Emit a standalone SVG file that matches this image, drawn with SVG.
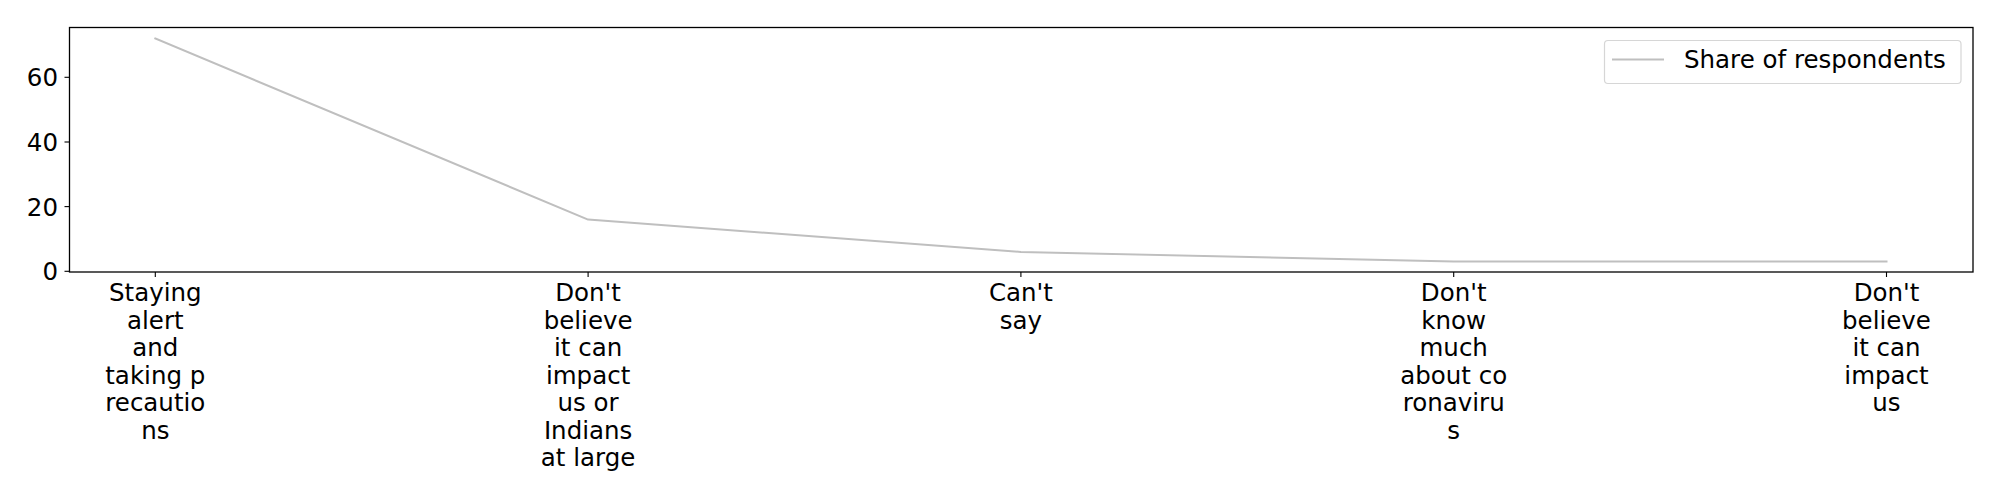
<svg xmlns="http://www.w3.org/2000/svg" width="2000" height="500" viewBox="0 0 2000 500">
<style>
text { font-family: "DejaVu Sans", "Liberation Sans", sans-serif; font-size: 24.5px; fill: #000; }
.xl { text-anchor: middle; }
.yl { text-anchor: end; }
.tick { stroke: #000; stroke-width: 1.1; }
.spine { fill: none; stroke: #000; stroke-width: 1.3; }
.series { fill: none; stroke: #bfbfbf; stroke-width: 2; stroke-linejoin: round; stroke-linecap: square; }
</style>
<rect x="0" y="0" width="2000" height="500" fill="#fff"/>
<g id="axes">
  <rect class="spine" x="69.5" y="27.5" width="1903.5" height="244.5"/>
  <g id="yticks">
    <line class="tick" x1="64.5" y1="271.3" x2="69.5" y2="271.3"/>
    <line class="tick" x1="64.5" y1="206.6" x2="69.5" y2="206.6"/>
    <line class="tick" x1="64.5" y1="142" x2="69.5" y2="142"/>
    <line class="tick" x1="64.5" y1="77.3" x2="69.5" y2="77.3"/>
    <text class="yl" x="58" y="280.2">0</text>
    <text class="yl" x="58" y="215.5">20</text>
    <text class="yl" x="58" y="150.9">40</text>
    <text class="yl" x="58" y="86.2">60</text>
  </g>
  <g id="xticks">
    <line class="tick" x1="155.3" y1="272" x2="155.3" y2="277"/>
    <line class="tick" x1="588.1" y1="272" x2="588.1" y2="277"/>
    <line class="tick" x1="1020.9" y1="272" x2="1020.9" y2="277"/>
    <line class="tick" x1="1453.7" y1="272" x2="1453.7" y2="277"/>
    <line class="tick" x1="1886.5" y1="272" x2="1886.5" y2="277"/>
  </g>
</g>
<g id="connectors">
  <polyline id="series-line" class="series" points="155.3,38.5 588.1,219.6 1020.9,251.9 1453.7,261.6 1886.5,261.6"/>
</g>
<g id="label-1">
  <text class="xl" x="155.3" y="301"><tspan x="155.3">Staying</tspan><tspan x="155.3" dy="27.5">alert</tspan><tspan x="155.3" dy="27.5">and</tspan><tspan x="155.3" dy="27.5">taking p</tspan><tspan x="155.3" dy="27.5">recautio</tspan><tspan x="155.3" dy="27.5">ns</tspan></text>
</g>
<g id="label-2">
  <text class="xl" x="588.1" y="301"><tspan x="588.1">Don't</tspan><tspan x="588.1" dy="27.5">believe</tspan><tspan x="588.1" dy="27.5">it can</tspan><tspan x="588.1" dy="27.5">impact</tspan><tspan x="588.1" dy="27.5">us or</tspan><tspan x="588.1" dy="27.5">Indians</tspan><tspan x="588.1" dy="27.5">at large</tspan></text>
</g>
<g id="label-3">
  <text class="xl" x="1020.9" y="301"><tspan x="1020.9">Can't</tspan><tspan x="1020.9" dy="27.5">say</tspan></text>
</g>
<g id="label-4">
  <text class="xl" x="1453.7" y="301"><tspan x="1453.7">Don't</tspan><tspan x="1453.7" dy="27.5">know</tspan><tspan x="1453.7" dy="27.5">much</tspan><tspan x="1453.7" dy="27.5">about co</tspan><tspan x="1453.7" dy="27.5">ronaviru</tspan><tspan x="1453.7" dy="27.5">s</tspan></text>
</g>
<g id="label-5">
  <text class="xl" x="1886.5" y="301"><tspan x="1886.5">Don't</tspan><tspan x="1886.5" dy="27.5">believe</tspan><tspan x="1886.5" dy="27.5">it can</tspan><tspan x="1886.5" dy="27.5">impact</tspan><tspan x="1886.5" dy="27.5">us</tspan></text>
</g>
<g id="legend">
  <rect x="1604.5" y="40.5" width="356.5" height="43" rx="3.5" ry="3.5" fill="#fff" fill-opacity="0.8" stroke="#d6d6d6" stroke-width="1.2"/>
  <line x1="1612" y1="59.5" x2="1664" y2="59.5" stroke="#bfbfbf" stroke-width="2"/>
  <text x="1684" y="68">Share of respondents</text>
</g>
</svg>
